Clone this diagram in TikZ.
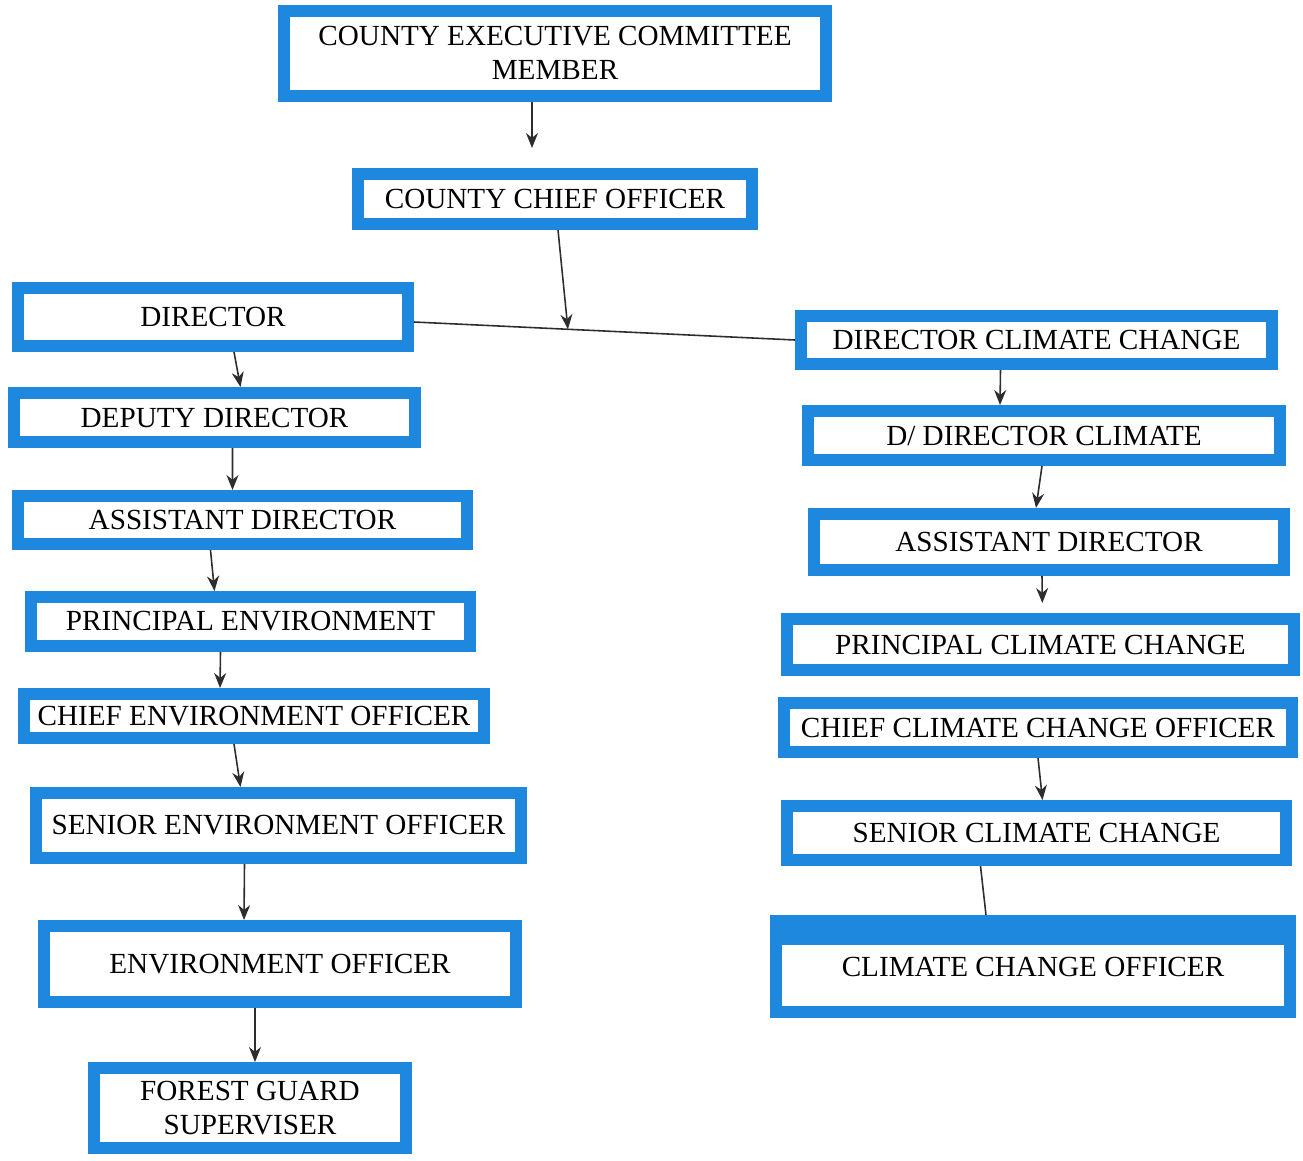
\documentclass[tikz,border=0pt]{standalone}
\usepackage{fontspec}
\setmainfont{Liberation Serif}
\usepackage{xcolor}
\definecolor{box-blue}{RGB}{30,136,222}
\definecolor{ink}{RGB}{45,45,45}
\usepackage{tikz}
\usetikzlibrary{calc,arrows.meta}
\tikzset{post/.style={draw=box-blue,line width=0.24cm,fill=white,align=center,inner sep=0pt,
		font=\fontsize{16.6}{19.5}\selectfont},
	link/.style={ink,line width=0.9pt}}

\begin{document}
\begin{tikzpicture}[>={Stealth[length=0.3cm,width=0.24cm]}]
	\useasboundingbox (0,0) rectangle (26.06,-23.2);
	\node[post,minimum width=10.84cm,minimum height=1.70cm] (cec) at (11.10,-1.06) {COUNTY EXECUTIVE COMMITTEE\\MEMBER};
	\node[post,minimum width=7.88cm,minimum height=1.00cm] (cco) at (11.10,-3.98) {COUNTY CHIEF OFFICER};
	\node[post,minimum width=7.80cm,minimum height=1.16cm] (dirEnv) at (4.26,-6.34) {DIRECTOR};
	\node[post,minimum width=8.02cm,minimum height=0.98cm] (depDir) at (4.29,-8.35) {DEPUTY DIRECTOR};
	\node[post,minimum width=8.98cm,minimum height=0.96cm] (asstEnv) at (4.85,-10.40) {ASSISTANT DIRECTOR};
	\node[post,minimum width=8.78cm,minimum height=0.98cm] (prinEnv) at (5.01,-12.43) {PRINCIPAL ENVIRONMENT};
	\node[post,minimum width=9.20cm,minimum height=0.88cm] (chiefEnv) at (5.08,-14.32) {CHIEF ENVIRONMENT OFFICER};
	\node[post,minimum width=9.70cm,minimum height=1.30cm] (senEnv) at (5.57,-16.51) {SENIOR ENVIRONMENT OFFICER};
	\node[post,minimum width=9.44cm,minimum height=1.52cm] (envOff) at (5.60,-19.28) {ENVIRONMENT OFFICER};
	\node[post,minimum width=6.24cm,minimum height=1.60cm] (forest) at (5.00,-22.16) {FOREST GUARD\\SUPERVISER};
	\node[post,minimum width=9.42cm,minimum height=0.96cm] (dirCC) at (20.73,-6.80) {DIRECTOR CLIMATE CHANGE};
	\node[post,minimum width=9.44cm,minimum height=0.98cm] (dDirCC) at (20.88,-8.71) {D/ DIRECTOR CLIMATE};
	\node[post,minimum width=9.40cm,minimum height=1.12cm] (asstCC) at (20.98,-10.84) {ASSISTANT DIRECTOR};
	\node[post,minimum width=10.14cm,minimum height=1.02cm] (prinCC) at (20.81,-12.89) {PRINCIPAL CLIMATE CHANGE};
	\node[post,minimum width=10.16cm,minimum height=0.98cm] (chiefCC) at (20.76,-14.55) {CHIEF CLIMATE CHANGE OFFICER};
	\node[post,minimum width=9.98cm,minimum height=1.08cm] (senCC) at (20.73,-16.66) {SENIOR CLIMATE CHANGE};
	\node[post,minimum width=10.28cm,minimum height=1.82cm,text depth=-0.3cm] (ccOff) at (20.66,-19.33) {CLIMATE CHANGE OFFICER};
	\fill[box-blue] (ccOff.north west) rectangle ([yshift=-0.6cm]ccOff.north east);
	
	\draw[->,link,shorten >=0.4cm] ([xshift=-0.46cm]cec.south) -- ([xshift=-0.46cm]cco.north);
	\draw[link] ([yshift=-0.1cm]dirEnv.east) -- (dirCC.west);
	\coordinate (jn) at ($([yshift=-0.1cm]dirEnv.east)!0.404!(dirCC.west)$);
	\draw[->,link] ([xshift=0.06cm]cco.south) -- (jn);
	\foreach \a/\sa/\b/\sb in {dirEnv/0.42/depDir/0.52,depDir/0.36/asstEnv/-0.20,asstEnv/-0.64/prinEnv/-0.72,
			prinEnv/-0.60/chiefEnv/-0.68,chiefEnv/-0.40/senEnv/-0.76,senEnv/-0.68/envOff/-0.72,
			envOff/-0.50/forest/0.10,dirCC/-0.72/dDirCC/-0.88,dDirCC/-0.04/asstCC/-0.26,chiefCC/0/senCC/0.12}
		\draw[->,link] ([xshift=\sa cm]\a.south) -- ([xshift=\sb cm]\b.north);
	\draw[->,link,shorten >=0.2cm] ([xshift=-0.14cm]asstCC.south) -- ([xshift=0.04cm]prinCC.north);
	\draw[link] ([xshift=-1.12cm]senCC.south) -- ([xshift=-0.94cm]ccOff.north);
\end{tikzpicture}
\end{document}
